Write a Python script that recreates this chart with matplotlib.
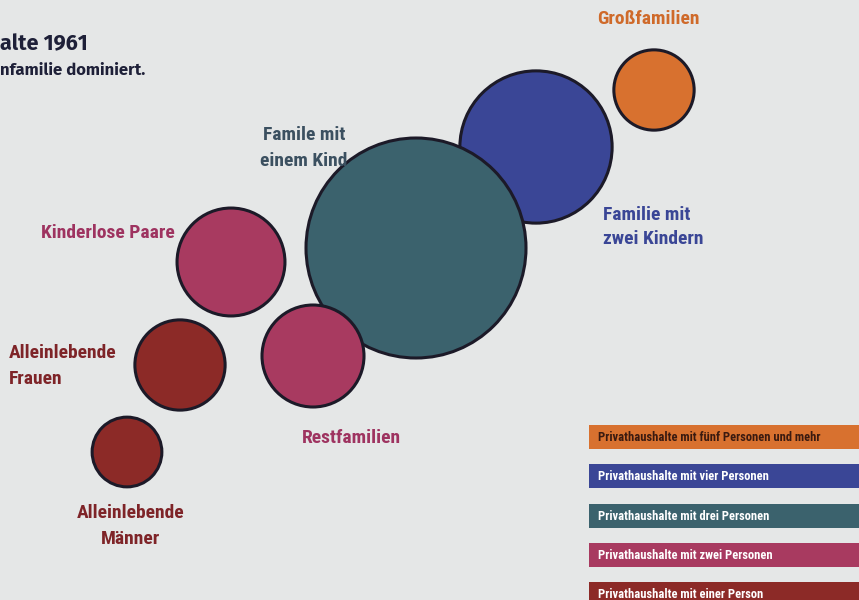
import matplotlib.pyplot as plt
import numpy as np
from matplotlib.patches import Circle, Rectangle

# Blasen: Haushaltstypen 1961 (relative Anteile, Fläche der Blase)
groups = ['Großfamilien', 'Familie mit zwei Kindern', 'Famile mit einem Kind',
          'Kinderlose Paare', 'Restfamilien', 'Alleinlebende Frauen', 'Alleinlebende Männer']
shares = [5.7, 20.5, 42.8, 10.3, 9.2, 7.2, 4.3]
persons = [5, 4, 3, 2, 2, 1, 1]

# Lage der Blasen (Pixel)
pos_x = [654, 536, 416, 231, 313, 180, 127]
pos_y = [90, 147, 248, 262, 356, 365, 452]

legend_labels = ['Privathaushalte mit fünf Personen und mehr',
                 'Privathaushalte mit vier Personen',
                 'Privathaushalte mit drei Personen',
                 'Privathaushalte mit zwei Personen',
                 'Privathaushalte mit einer Person']
legend_persons = [5, 4, 3, 2, 1]

colors = {5: '#d8712f', 4: '#3a4696', 3: '#3b626d', 2: '#a83a60', 1: '#8c2a27'}
text_colors = {5: '#cf6a2a', 4: '#3a4696', 3: '#3b5060', 2: '#9e3360', 1: '#7e2428'}
bg = '#e5e7e7'
cond = ['Roboto Condensed', 'Archivo Narrow', 'DejaVu Sans']

fig = plt.figure(figsize=(8.59, 6.0), dpi=100, facecolor=bg)
ax = fig.add_axes([0, 0, 1, 1])
ax.set_xlim(0, 859)
ax.set_ylim(600, 0)
ax.set_aspect('equal')
ax.axis('off')
ax.set_facecolor(bg)

k = 110 / np.sqrt(max(shares))
for x, y, s, p in zip(pos_x, pos_y, shares, persons):
    ax.add_patch(Circle((x, y), k * np.sqrt(s), facecolor=colors[p],
                        edgecolor='#1c1a28', linewidth=2.2, zorder=2))

lab = dict(fontfamily=cond, fontweight='bold', fontsize=14, zorder=3, linespacing=1.5)
ax.text(648, 19, 'Großfamilien', color=text_colors[5], ha='center', va='center', **lab)
ax.text(304, 148, 'Famile mit\neinem Kind', color=text_colors[3], ha='center', va='center', **lab)
ax.text(603, 227, 'Familie mit\nzwei Kindern', color=text_colors[4], ha='left', va='center', **lab)
ax.text(108, 233, 'Kinderlose Paare', color=text_colors[2], ha='center', va='center', **lab)
ax.text(9, 366, 'Alleinlebende\nFrauen', color=text_colors[1], ha='left', va='center', **lab)
ax.text(351, 438, 'Restfamilien', color=text_colors[2], ha='center', va='center', **lab)
ax.text(131, 526, 'Alleinlebende\nMänner', color=text_colors[1], ha='center', va='center', **lab)

# Titel (links angeschnitten)
ax.text(0, 44, 'alte 1961', color='#1e2038', fontsize=15.5, fontweight='bold',
        fontfamily=['Fira Sans', 'Lato'], ha='left', va='center')
ax.text(0, 70, 'nfamilie dominiert.', color='#1e2038', fontsize=12, fontweight='bold',
        fontfamily=['Fira Sans', 'Lato'], ha='left', va='center')

# Legende als farbige Balken
for i, (txt, p) in enumerate(zip(legend_labels, legend_persons)):
    y0 = 425 + i * 39.3
    ax.add_patch(Rectangle((589, y0), 275, 24, facecolor=colors[p], edgecolor='none',
                           zorder=2, clip_on=False))
    ax.text(598, y0 + 12.5, txt, color='#3a1a10' if p == 5 else 'white', fontsize=9,
            fontweight='bold', fontfamily=cond, ha='left', va='center', zorder=3)

fig.savefig('out.png', dpi=100, facecolor=bg)
